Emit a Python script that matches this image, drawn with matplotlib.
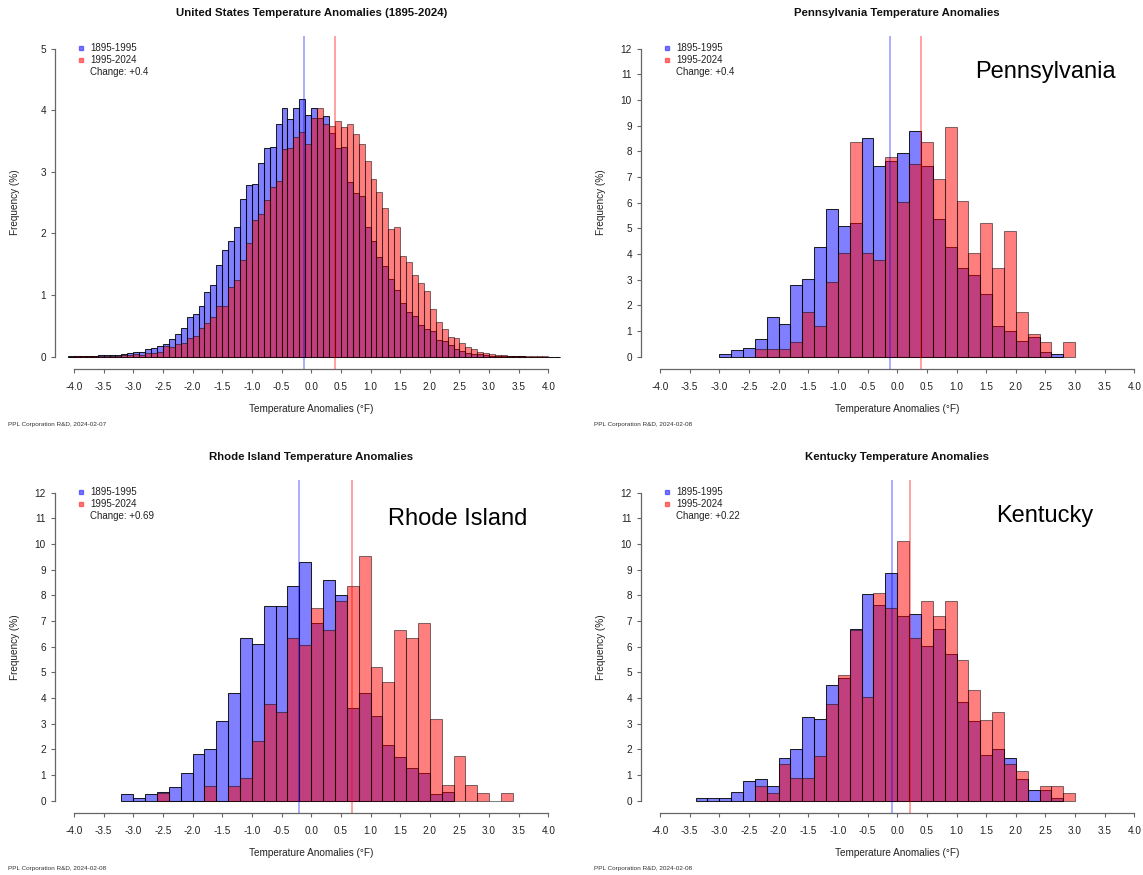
import numpy as np
import matplotlib.pyplot as plt

plt.rcParams['font.family'] = ['Liberation Sans', 'DejaVu Sans']

W, H = 1143, 875

# --- data (frequency in % per bin) ---
# United States: 0.1 degF bins from -4.1 to 4.2
us_start, us_step = -4.1, 0.1
us_blue = [0.003,
           0.005, 0.005, 0.01, 0.01, 0.02, 0.02, 0.03, 0.03, 0.04, 0.065,
           0.08, 0.075, 0.12, 0.14, 0.17, 0.20, 0.29, 0.36, 0.46, 0.64,
           0.70, 0.83, 1.05, 1.16, 1.48, 1.73, 1.87, 2.10, 2.56, 2.78,
           2.80, 3.14, 3.39, 3.40, 3.77, 4.03, 3.86, 4.03, 4.18, 3.93,
           4.04, 3.87, 3.91, 3.63, 3.39, 3.41, 2.84, 2.65, 2.60, 2.10,
           1.88, 1.61, 1.47, 1.26, 1.08, 0.87, 0.73, 0.66, 0.51, 0.45,
           0.41, 0.27, 0.25, 0.19, 0.12, 0.09, 0.065, 0.05, 0.04, 0.027,
           0.016, 0.01, 0.01, 0.005, 0.005, 0.003, 0.002, 0.002, 0.002, 0.002,
           0.002, 0.002]
us_red = [0.002,
          0.003, 0.003, 0.005, 0.005, 0.008, 0.01, 0.012, 0.015, 0.02, 0.03,
          0.045, 0.03, 0.054, 0.065, 0.08, 0.17, 0.16, 0.20, 0.22, 0.30,
          0.335, 0.46, 0.54, 0.65, 0.82, 0.83, 1.13, 1.25, 1.57, 1.84,
          2.22, 2.31, 2.54, 2.75, 2.85, 3.37, 3.39, 3.56, 3.64, 3.46,
          3.87, 4.03, 3.77, 3.75, 3.83, 3.73, 3.78, 3.61, 3.46, 3.18,
          2.88, 2.68, 2.42, 2.08, 2.10, 1.64, 1.53, 1.33, 1.19, 1.07,
          0.77, 0.57, 0.45, 0.32, 0.30, 0.23, 0.16, 0.12, 0.075, 0.054,
          0.04, 0.027, 0.02, 0.015, 0.01, 0.008, 0.006, 0.005, 0.004, 0.003,
          0.002, 0.002]

# Pennsylvania: 0.2 degF bins from -3.0
pa_start, pa_step = -3.0, 0.2
pa_blue = [0.10, 0.26, 0.35, 0.69, 1.53, 1.27, 2.78, 3.04, 4.27, 5.77,
           5.10, 5.21, 8.53, 7.44, 7.61, 7.95, 8.79, 7.44, 5.35, 4.26,
           3.44, 3.18, 2.43, 1.19, 1.01, 0.61, 0.77, 0.19, 0.10, 0.0]
pa_red = [0.0, 0.0, 0.0, 0.29, 0.29, 0.29, 0.58, 1.74, 1.18, 2.90,
          4.03, 8.35, 4.03, 3.77, 7.79, 6.04, 7.49, 8.35, 6.91, 8.94,
          6.05, 4.03, 5.21, 3.47, 4.90, 1.73, 0.88, 0.58, 0.0, 0.58]

# Rhode Island: 0.2 degF bins from -3.2
ri_start, ri_step = -3.2, 0.2
ri_blue = [0.26, 0.10, 0.26, 0.36, 0.52, 1.08, 1.84, 2.03, 3.09, 4.19,
           6.34, 6.10, 7.60, 7.60, 8.35, 9.29, 6.92, 8.61, 8.03, 3.61,
           4.19, 3.29, 2.18, 1.69, 1.27, 1.08, 0.27, 0.36, 0.0, 0.0,
           0.0, 0.0, 0.0]
ri_red = [0.0, 0.0, 0.0, 0.31, 0.0, 0.0, 0.0, 0.58, 0.0, 0.58,
          0.88, 2.31, 3.77, 3.45, 6.34, 6.05, 7.51, 6.64, 7.77, 8.35,
          9.52, 5.21, 4.62, 6.64, 6.34, 6.92, 3.18, 0.60, 1.73, 0.60,
          0.32, 0.0, 0.32]

# Kentucky: 0.2 degF bins from -3.4
ky_start, ky_step = -3.4, 0.2
ky_blue = [0.09, 0.09, 0.09, 0.34, 0.77, 0.85, 0.59, 1.68, 2.01, 3.27,
           3.18, 4.52, 4.77, 6.69, 8.05, 7.62, 8.87, 7.20, 7.27, 6.03,
           6.71, 5.70, 3.85, 3.10, 1.77, 2.01, 1.68, 0.86, 0.43, 0.43,
           0.09, 0.0]
ky_red = [0.0, 0.0, 0.0, 0.0, 0.0, 0.57, 0.29, 1.45, 0.87, 0.87,
          1.73, 3.76, 4.90, 6.64, 4.04, 8.10, 7.50, 10.10, 6.33, 7.79,
          7.21, 7.79, 5.49, 4.32, 3.16, 3.46, 1.45, 1.17, 0.0, 0.57,
          0.57, 0.29]

# mean lines
us_means = (-0.12, 0.40)
pa_means = (-0.12, 0.40)
ri_means = (-0.20, 0.69)
ky_means = (-0.08, 0.22)

x_ticks = np.arange(-4.0, 4.01, 0.5)

BLUE = (0, 0, 1, 0.5)
RED = (1, 0, 0, 0.5)
AXCOL = '#666666'
TXT = '#222222'

fig = plt.figure(figsize=(W / 100, H / 100), dpi=100)


def fig_xy(x, y):
    return x / W, 1 - y / H


def draw_bars(ax, start, step, vals, face, edge):
    vals = np.array(vals)
    nz = np.nonzero(vals)[0]
    lo, hi = nz[0], nz[-1] + 1
    lefts = start + step * np.arange(len(vals))
    ax.bar(lefts[lo:hi], vals[lo:hi], width=step, align='edge',
           facecolor=face, edgecolor=edge, linewidth=0.75)


def panel(box, start, step, blue, red, means, ymax, title, date, state=None):
    x0, x1, yt, yb = box
    ax = fig.add_axes([x0 / W, 1 - yb / H, (x1 - x0) / W, (yb - yt) / H])
    ax.set_facecolor('none')
    draw_bars(ax, start, step, blue, BLUE, (0, 0, 0, 0.85))
    draw_bars(ax, start, step, red, RED, (0, 0, 0, 0.5))
    ax.axvline(means[0], color=(0, 0, 1, 0.35), lw=1.3)
    ax.axvline(means[1], color=(1, 0, 0, 0.4), lw=1.3)

    ax.set_xlim(-4.32, 4.32)
    ax.set_ylim(-0.04 * ymax, 1.04 * ymax)
    for s in ('top', 'right'):
        ax.spines[s].set_visible(False)
    ax.spines['left'].set_bounds(0, ymax)
    ax.spines['bottom'].set_bounds(-4, 4)
    for s in ('left', 'bottom'):
        ax.spines[s].set_color(AXCOL)
        ax.spines[s].set_linewidth(0.9)
    ax.set_xticks(x_ticks)
    ax.set_xticklabels([f"{v:.1f}" for v in x_ticks])
    ax.set_yticks(range(0, ymax + 1))
    ax.set_yticklabels([str(v) for v in range(0, ymax + 1)])
    ax.tick_params(axis='x', direction='out', length=3, width=0.8, color=AXCOL,
                   labelsize=7.2, labelcolor=TXT, pad=6)
    ax.tick_params(axis='y', direction='out', length=3, width=0.8, color=AXCOL,
                   labelsize=7.2, labelcolor=TXT, pad=3.5)

    cx = x0 + (19 + 237.2)  # centre of -4..4 span
    fig.text(*fig_xy(cx, yt - 23.5), title, ha='center', va='center',
             fontsize=8.2, fontweight='bold', color='#111111')
    fig.text(*fig_xy(cx, yb + 40), 'Temperature Anomalies (°F)', ha='center',
             va='center', fontsize=7.2, color=TXT)
    fig.text(*fig_xy(x0 - 40, (yt + yb) / 2), 'Frequency (%)', ha='center',
             va='center', rotation=90, fontsize=7.2, color=TXT)
    fig.text(*fig_xy(x0 - 47, yb + 55), f'PPL Corporation R&D, {date}',
             ha='left', va='center', fontsize=4.6, color='#333333')

    # legend
    chg = means[1]
    rows = [yt + 11.8, yt + 23.6, yt + 35.4]
    for yy, col in zip(rows[:2], (BLUE, RED)):
        fx, fy = fig_xy(x0 + 25.7, yy)
        fig.lines.append(plt.Line2D([fx], [fy], marker='s', markersize=3.2,
                                    color=col, linestyle='none',
                                    transform=fig.transFigure))
    for yy, lab in zip(rows, ('1895-1995', '1995-2024', f'Change: +{chg:g}')):
        fig.text(*fig_xy(x0 + 35.5, yy), lab, ha='left', va='center',
                 fontsize=7, color=TXT)
    return ax


panel((55.0, 567.4, 36.3, 369.0), us_start, us_step, us_blue, us_red,
      us_means, 5, 'United States Temperature Anomalies (1895-2024)', '2024-02-07')
panel((641.0, 1153.4, 36.3, 369.0), pa_start, pa_step, pa_blue, pa_red,
      pa_means, 12, 'Pennsylvania Temperature Anomalies', '2024-02-08')
panel((55.0, 567.4, 480.4, 813.1), ri_start, ri_step, ri_blue, ri_red,
      ri_means, 12, 'Rhode Island Temperature Anomalies', '2024-02-08')
panel((641.0, 1153.4, 480.4, 813.1), ky_start, ky_step, ky_blue, ky_red,
      ky_means, 12, 'Kentucky Temperature Anomalies', '2024-02-08')

# large state names
fig.text(*fig_xy(975, 72), 'Pennsylvania', ha='left', va='center', fontsize=17)
fig.text(*fig_xy(388, 519), 'Rhode Island', ha='left', va='center', fontsize=17)
fig.text(*fig_xy(996, 516), 'Kentucky', ha='left', va='center', fontsize=17)

fig.savefig('out.png', dpi=100)
